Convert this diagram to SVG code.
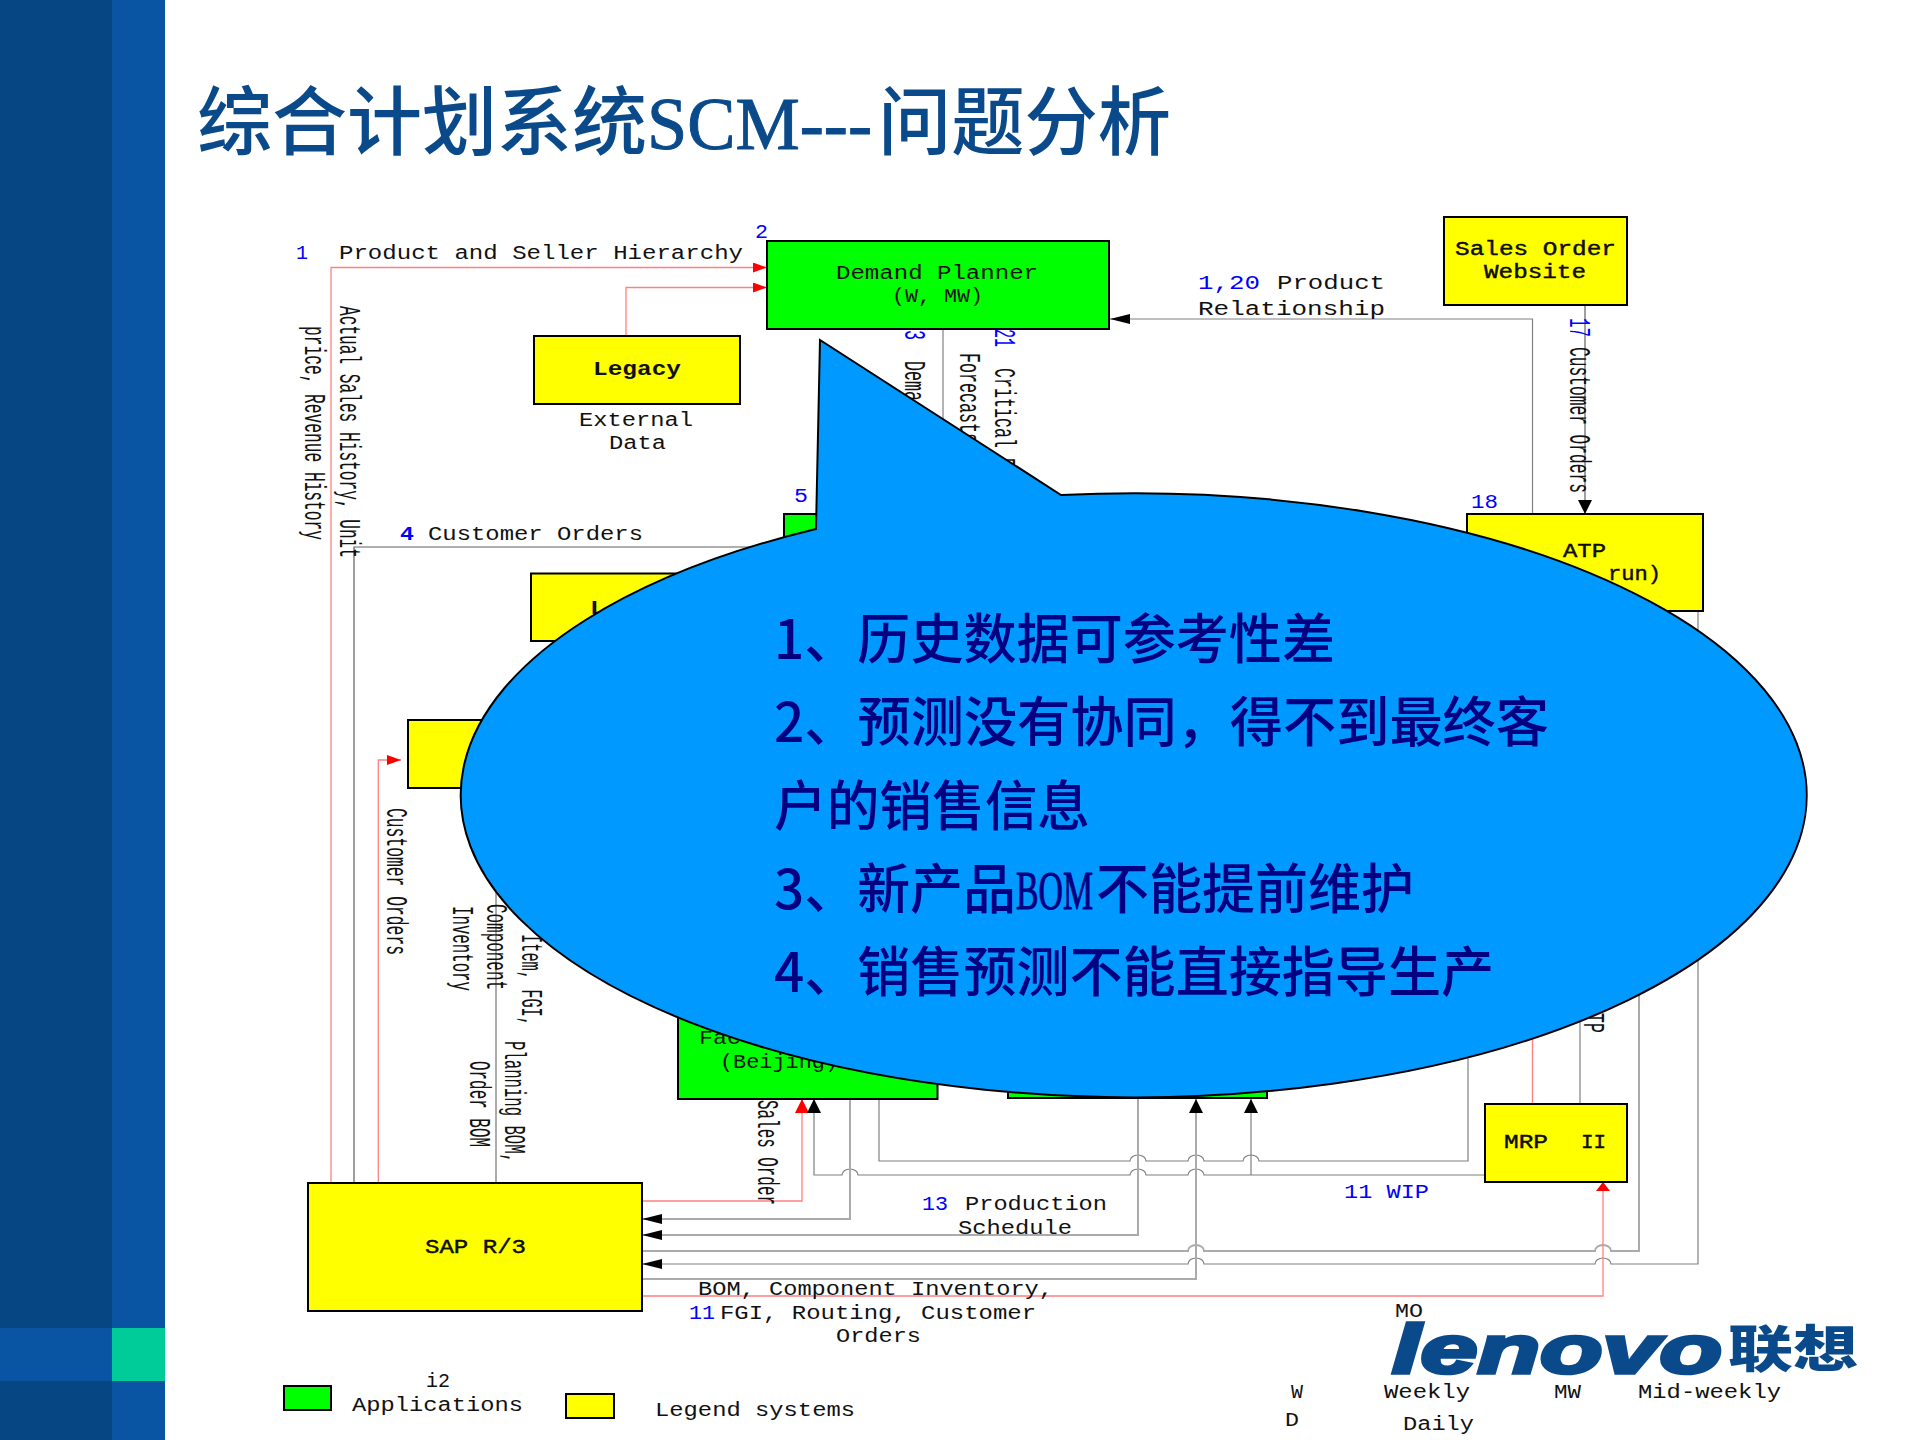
<svg xmlns="http://www.w3.org/2000/svg" width="1920" height="1440" viewBox="0 0 1920 1440">
<style>
text{font-family:"Liberation Mono","Noto Sans CJK SC",monospace;fill:#111}
.h{font-size:20px}
.v{font-size:29px}
.b{fill:#0000FF}
.bold{font-weight:bold}
.m{stroke:#000;stroke-width:.4}
.g{fill:#00FF00;stroke:#000;stroke-width:2}
.y{fill:#FFFF00;stroke:#000;stroke-width:2}
.c{fill:none;stroke:#808080;stroke-width:1.2}
.d{fill:none;stroke:#606060;stroke-width:1.2}
.l{fill:none;stroke:#ABABAB;stroke-width:2}
.r{fill:none;stroke:#FF8080;stroke-width:1.3}
.cjk{font-family:"Noto Sans CJK SC",sans-serif}
.call{font-size:54px;fill:#000080;font-weight:500}
</style>
<defs>
<marker id="kh" markerUnits="userSpaceOnUse" markerWidth="20" markerHeight="10" refX="20" refY="5" orient="auto"><path d="M0 0L20 5L0 10Z" fill="#000"/></marker>
<marker id="kv" markerUnits="userSpaceOnUse" markerWidth="14" markerHeight="14" refX="14" refY="7" orient="auto"><path d="M0 0L14 7L0 14Z" fill="#000"/></marker>
<marker id="rh" markerUnits="userSpaceOnUse" markerWidth="14" markerHeight="10" refX="14" refY="5" orient="auto"><path d="M0 0L14 5L0 10Z" fill="#F00"/></marker>
<marker id="rv" markerUnits="userSpaceOnUse" markerWidth="14" markerHeight="14" refX="14" refY="7" orient="auto"><path d="M0 0L14 7L0 14Z" fill="#F00"/></marker>
<marker id="rs" markerUnits="userSpaceOnUse" markerWidth="9" markerHeight="14" refX="9" refY="7" orient="auto"><path d="M0 0L9 7L0 14Z" fill="#F00"/></marker>
</defs>
<rect width="1920" height="1440" fill="#FFF"/>
<g id="background">
<rect x="0" y="0" width="112" height="1440" fill="#064683"/>
<rect x="112" y="0" width="53" height="1440" fill="#0A55A3"/>
<rect x="0" y="1328" width="112" height="53" fill="#0A55A3"/>
<rect x="112" y="1328" width="53" height="53" fill="#00CC99"/>
</g>
<text id="title" class="cjk" y="149" font-size="75" style="fill:#0A4A8A;font-weight:500"><tspan x="197" textLength="450" lengthAdjust="spacingAndGlyphs">综合计划系统</tspan><tspan x="647" textLength="225" lengthAdjust="spacingAndGlyphs" style="font-family:'Liberation Serif',serif;stroke:#0A4A8A;stroke-width:1">SCM---</tspan><tspan x="878" textLength="293" lengthAdjust="spacingAndGlyphs">问题分析</tspan></text>
<g id="connectors">
<path class="r" d="M331 1183V267.500H767" marker-end="url(#rh)"/>
<path class="r" d="M626 336V287.500H767" marker-end="url(#rh)"/>
<path class="c" d="M1532.500 514V319H1110" marker-end="url(#kh)"/>
<path class="d" d="M1585 305V514" marker-end="url(#kv)"/>
<path class="d" d="M354 1183V547H800"/>
<path class="r" d="M378.300 1183V760H401" marker-end="url(#rh)"/>
<path class="l" d="M496 1183V880"/>
<path class="c" d="M943 329V430"/>
<path class="r" d="M642 1201H802V1099" marker-end="url(#rv)"/>
<path class="c" d="M1485 1175H1204A8 6 0 0 0 1188 1175H1146A8 6 0 0 0 1130 1175H858A8 6 0 0 0 842 1175H814V1099" marker-end="url(#kv)"/>
<path class="c" d="M1251 1175V1099" marker-end="url(#kv)"/>
<path class="l" d="M850 1099V1219H642" marker-end="url(#kh)"/>
<path class="c" d="M879 1099V1161H1130A8 6 0 0 1 1146 1161H1188A8 6 0 0 1 1204 1161H1243A8 6 0 0 1 1259 1161H1468V1040"/>
<path class="l" d="M1138 1090V1235H642" marker-end="url(#kh)"/>
<path class="l" d="M642 1251H1188A8 6 0 0 1 1204 1251H1595A8 6 0 0 1 1611 1251H1639V980"/>
<path class="c" d="M1698 611V1264H1611A8 6 0 0 0 1595 1264H1204A8 6 0 0 0 1188 1264H642" marker-end="url(#kh)"/>
<path class="l" d="M642 1279H1196V1099" marker-end="url(#kv)"/>
<path class="r" d="M642 1296H1603V1182" marker-end="url(#rs)"/>
<path class="r" d="M1532.500 1104V1020"/>
<path class="c" d="M1580 1104V1010"/>
</g>
<g id="node-demand-planner">
<rect class="g" x="767" y="241" width="342" height="88"/>
<text class="h" x="836" y="279" textLength="202" lengthAdjust="spacingAndGlyphs">Demand Planner</text>
<text class="h" x="892" y="302" textLength="91" lengthAdjust="spacingAndGlyphs">(W, MW)</text>
<text class="h b" x="755" y="238" textLength="13" lengthAdjust="spacingAndGlyphs">2</text>
</g>
<g id="node-legacy">
<rect class="y" x="534" y="336" width="206" height="68"/>
<text class="h bold" x="593" y="375" textLength="88" lengthAdjust="spacingAndGlyphs">Legacy</text>
<text class="h" x="579" y="426" textLength="114" lengthAdjust="spacingAndGlyphs">External</text>
<text class="h" x="609" y="449" textLength="57" lengthAdjust="spacingAndGlyphs">Data</text>
</g>
<g id="node-sales-website">
<rect class="y" x="1444" y="217" width="183" height="88"/>
<text class="h m" x="1455" y="255" textLength="161" lengthAdjust="spacingAndGlyphs">Sales Order</text>
<text class="h m" x="1484" y="278" textLength="102" lengthAdjust="spacingAndGlyphs">Website</text>
</g>
<g id="node-atp">
<rect class="y" x="1467" y="514" width="236" height="97"/>
<text class="h m" x="1563" y="557" textLength="43" lengthAdjust="spacingAndGlyphs">ATP</text>
<text class="h m" x="1608" y="580" textLength="53" lengthAdjust="spacingAndGlyphs">run)</text>
<text class="h b" x="1471" y="508" textLength="27" lengthAdjust="spacingAndGlyphs">18</text>
</g>
<g id="node-5">
<rect class="g" x="784" y="514" width="100" height="60"/>
<text class="h b" x="794" y="502" textLength="14" lengthAdjust="spacingAndGlyphs">5</text>
</g>
<g id="node-legacy2">
<rect class="y" x="531" y="573.500" width="200" height="67.500"/>
<text class="h bold" x="590" y="614" textLength="15" lengthAdjust="spacingAndGlyphs">L</text>
</g>
<rect id="node-yellow3" class="y" x="408" y="720" width="190" height="68"/>
<g id="node-factory">
<rect class="g" x="678" y="960" width="259.500" height="139"/>
<text class="h" x="699" y="1044" textLength="42" lengthAdjust="spacingAndGlyphs">Fac</text>
<text class="h" x="720" y="1068" textLength="118" lengthAdjust="spacingAndGlyphs">(Beijing)</text>
</g>
<rect id="node-green2" class="g" x="1008" y="960" width="259" height="138"/>
<g id="node-sap">
<rect class="y" x="308" y="1183" width="334" height="128"/>
<text class="h m" x="425" y="1253" textLength="101" lengthAdjust="spacingAndGlyphs">SAP R/3</text>
</g>
<g id="node-mrp">
<rect class="y" x="1485" y="1104" width="142" height="78"/>
<text class="h m" x="1504" y="1148" textLength="44" lengthAdjust="spacingAndGlyphs">MRP</text>
<text class="h m" x="1581" y="1148" textLength="25" lengthAdjust="spacingAndGlyphs">II</text>
</g>
<g id="legend">
<rect class="g" x="284" y="1386" width="47" height="24"/>
<rect class="y" x="566" y="1394" width="48" height="24"/>
<text class="h" x="426" y="1387" textLength="24" lengthAdjust="spacingAndGlyphs">i2</text>
<text class="h" x="352" y="1411" textLength="171" lengthAdjust="spacingAndGlyphs">Applications</text>
<text class="h" x="655" y="1416" textLength="200" lengthAdjust="spacingAndGlyphs">Legend systems</text>
<text class="h" x="1291" y="1398" textLength="12" lengthAdjust="spacingAndGlyphs">W</text>
<text class="h" x="1384" y="1398" textLength="86" lengthAdjust="spacingAndGlyphs">Weekly</text>
<text class="h" x="1554" y="1398" textLength="27" lengthAdjust="spacingAndGlyphs">MW</text>
<text class="h" x="1638" y="1398" textLength="143" lengthAdjust="spacingAndGlyphs">Mid-weekly</text>
<text class="h" x="1285" y="1426" textLength="14" lengthAdjust="spacingAndGlyphs">D</text>
<text class="h" x="1403" y="1430" textLength="71" lengthAdjust="spacingAndGlyphs">Daily</text>
</g>
<g id="labels">
<text class="h b" x="296" y="259" textLength="12" lengthAdjust="spacingAndGlyphs">1</text>
<text class="h" x="339" y="259" textLength="404" lengthAdjust="spacingAndGlyphs">Product and Seller Hierarchy</text>
<text class="h b" x="1198" y="289" textLength="62" lengthAdjust="spacingAndGlyphs">1,20</text>
<text class="h" x="1277" y="289" textLength="108" lengthAdjust="spacingAndGlyphs">Product</text>
<text class="h" x="1198" y="315" textLength="187" lengthAdjust="spacingAndGlyphs">Relationship</text>
<text class="h b bold" x="400" y="540" textLength="14" lengthAdjust="spacingAndGlyphs">4</text>
<text class="h" x="428" y="540" textLength="215" lengthAdjust="spacingAndGlyphs">Customer Orders</text>
<text class="h b" x="922" y="1210" textLength="26" lengthAdjust="spacingAndGlyphs">13</text>
<text class="h" x="965" y="1210" textLength="142" lengthAdjust="spacingAndGlyphs">Production</text>
<text class="h" x="958" y="1234" textLength="114" lengthAdjust="spacingAndGlyphs">Schedule</text>
<text class="h" x="698" y="1295" textLength="355" lengthAdjust="spacingAndGlyphs">BOM, Component Inventory,</text>
<text class="h b" x="689" y="1319" textLength="26" lengthAdjust="spacingAndGlyphs">11</text>
<text class="h" x="720" y="1319" textLength="316" lengthAdjust="spacingAndGlyphs">FGI, Routing, Customer</text>
<text class="h" x="836" y="1342" textLength="85" lengthAdjust="spacingAndGlyphs">Orders</text>
<text class="h b" x="1344" y="1198" textLength="85" lengthAdjust="spacingAndGlyphs">11 WIP</text>
<text class="h" x="1395" y="1317" textLength="28" lengthAdjust="spacingAndGlyphs">MO</text>
<text class="v" transform="translate(340 306) rotate(90)" textLength="252" lengthAdjust="spacingAndGlyphs">Actual Sales History, Unit</text>
<text class="v" transform="translate(305 326) rotate(90)" textLength="214" lengthAdjust="spacingAndGlyphs">price, Revenue History</text>
<text class="v b" transform="translate(905 330) rotate(90)" textLength="10" lengthAdjust="spacingAndGlyphs">3</text>
<text class="v" transform="translate(905 361) rotate(90)" textLength="40" lengthAdjust="spacingAndGlyphs">Dema</text>
<text class="v" transform="translate(960 353) rotate(90)" textLength="90" lengthAdjust="spacingAndGlyphs">Forecasts</text>
<text class="v b" transform="translate(995 329) rotate(90)" textLength="18" lengthAdjust="spacingAndGlyphs">21</text>
<text class="v" transform="translate(995 368) rotate(90)" textLength="100" lengthAdjust="spacingAndGlyphs">Critical P</text>
<text class="v b" transform="translate(1570 318) rotate(90)" textLength="19" lengthAdjust="spacingAndGlyphs">17</text>
<text class="v" transform="translate(1570 347) rotate(90)" textLength="146" lengthAdjust="spacingAndGlyphs">Customer Orders</text>
<text class="v" transform="translate(387 808) rotate(90)" textLength="147" lengthAdjust="spacingAndGlyphs">Customer Orders</text>
<text class="v" transform="translate(453 906) rotate(90)" textLength="85" lengthAdjust="spacingAndGlyphs">Inventory</text>
<text class="v" transform="translate(487 904) rotate(90)" textLength="86" lengthAdjust="spacingAndGlyphs">Component</text>
<text class="v" transform="translate(522 934) rotate(90)" textLength="92" lengthAdjust="spacingAndGlyphs">Item, FGI,</text>
<text class="v" transform="translate(505 1041) rotate(90)" textLength="122" lengthAdjust="spacingAndGlyphs">Planning BOM,</text>
<text class="v" transform="translate(470 1061) rotate(90)" textLength="86" lengthAdjust="spacingAndGlyphs">Order BOM</text>
<text class="v" transform="translate(758 1100) rotate(90)" textLength="105" lengthAdjust="spacingAndGlyphs">Sales Order</text>
<text class="v" transform="translate(1584 1013) rotate(90)" textLength="20" lengthAdjust="spacingAndGlyphs">TP</text>
</g>
<g id="callout">
<path d="M816 529L820 340L1061 495A673 302 0 1 1 816 529Z" fill="#0099FF" stroke="#000" stroke-width="2"/>
<text class="cjk call" x="774" y="659" textLength="561" lengthAdjust="spacingAndGlyphs">1、历史数据可参考性差</text>
<text class="cjk call" x="774" y="742" textLength="775" lengthAdjust="spacingAndGlyphs">2、预测没有协同，得不到最终客</text>
<text class="cjk call" x="774" y="826" textLength="316" lengthAdjust="spacingAndGlyphs">户的销售信息</text>
<text class="cjk call" y="909"><tspan x="774" textLength="242" lengthAdjust="spacingAndGlyphs">3、新产品</tspan><tspan x="1016" textLength="77" lengthAdjust="spacingAndGlyphs" style="font-family:'Liberation Serif',serif;stroke:#000080;stroke-width:1">BOM</tspan><tspan x="1096" textLength="318" lengthAdjust="spacingAndGlyphs">不能提前维护</tspan></text>
<text class="cjk call" x="774" y="992" textLength="720" lengthAdjust="spacingAndGlyphs">4、销售预测不能直接指导生产</text>
</g>
<g id="logo">
<text x="1392" y="1373" font-size="69" textLength="330" lengthAdjust="spacingAndGlyphs" style="font-family:'Liberation Sans',sans-serif;font-weight:bold;font-style:italic;fill:#0A4A8A;stroke:#0A4A8A;stroke-width:3.500">lenovo</text>
<text class="cjk" x="1728" y="1367" font-size="50" textLength="130" lengthAdjust="spacingAndGlyphs" style="font-weight:900;fill:#0A4A8A">联想</text>
</g>
</svg>
